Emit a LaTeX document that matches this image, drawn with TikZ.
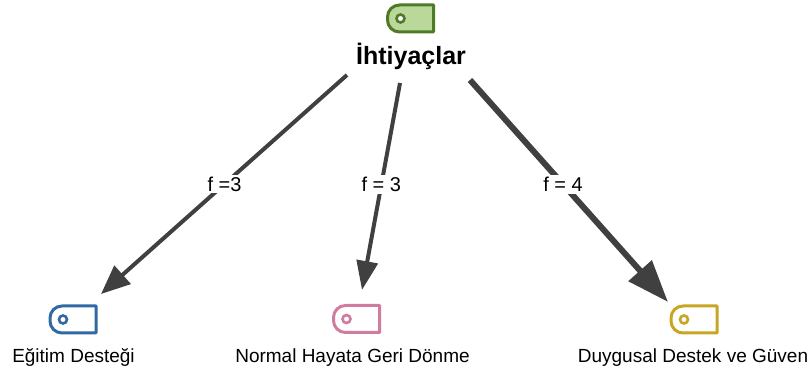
\documentclass[tikz,border=0pt]{standalone}
\usepackage{fontspec}
\setmainfont{Liberation Sans}
\usetikzlibrary{arrows.meta}
\definecolor{arrowc}{HTML}{404040}
\definecolor{greenS}{HTML}{4F7B28}
\definecolor{greenF}{HTML}{B9D89A}
\definecolor{blueS}{HTML}{2F6AA5}
\definecolor{pinkS}{HTML}{D27BA1}
\definecolor{yellowS}{HTML}{C8A522}
\tikzset{
  tagbox/.style={minimum width=46pt, minimum height=27pt, inner sep=0pt, outer sep=0pt},
  title/.style={font=\fontsize{25}{28}\selectfont\bfseries, inner sep=0pt, anchor=base},
  leaf/.style={font=\fontsize{19}{22}\selectfont, inner sep=0pt, anchor=base},
  elabel/.style={font=\fontsize{20}{23}\selectfont, fill=white, inner sep=2pt},
  conn/.style={draw=arrowc, line width=4pt},
}
\newcommand\tagicon[4]{%
  \node[tagbox] (#1) at (#2) {};
  \draw[#3, line width=3pt, fill=#4, line join=round]
    (#1.north east) -- ([xshift=12pt]#1.north west)
    arc[start angle=90, end angle=180, radius=12pt]
    -- ([yshift=12pt]#1.south west)
    arc[start angle=180, end angle=270, radius=12pt]
    -- (#1.south east) -- cycle;
  \draw[#3, line width=2.6pt, fill=white] ([xshift=13pt]#1.west) circle (4pt);
}
\begin{document}
\begin{tikzpicture}[x=1pt,y=1pt]
\useasboundingbox (0,0) rectangle (811,374);
% tags
\tagicon{troot}{410.5,355.5}{greenS}{greenF}
\tagicon{tblue}{73,54.5}{blueS}{white}
\tagicon{tpink}{356.5,55}{pinkS}{white}
\tagicon{tyellow}{694,54.5}{yellowS}{white}
% texts
\node[title] (root) at (411,309) {İhtiyaçlar};
\node[leaf] (a) at (73.5,11) {Eğitim Desteği};
\node[leaf] (b) at (352.5,11) {Normal Hayata Geri Dönme};
\node[leaf] (c) at (693,11) {Duygusal Destek ve Güven};
% connector ends
\coordinate (s1) at (347,299);
\coordinate (e1) at (101,80);
\coordinate (s2) at (400,291);
\coordinate (e2) at (362,84);
\coordinate (s3) at (470,294);
\coordinate (e3) at (668,72);
\draw[conn, -{Triangle[length=29pt,width=24pt]}] (s1) -- (e1)
  node[elabel, pos=0.498] (l1) {f =3};
\draw[conn, -{Triangle[length=29pt,width=21pt]}] (s2) -- (e2)
  node[elabel, pos=0.49] (l2) {f = 3};
\draw[conn, line width=6pt, -{Triangle[length=42pt,width=30pt]}] (s3) -- (e3)
  node[elabel, pos=0.47] (l3) {f = 4};
\end{tikzpicture}
\end{document}
